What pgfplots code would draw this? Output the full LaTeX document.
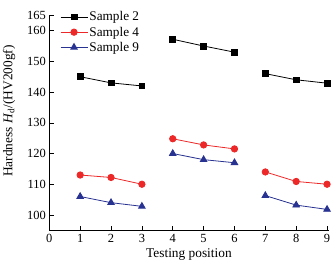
\documentclass[border=0pt]{standalone}
\usepackage{fontspec}
\setmainfont{Liberation Serif}
\usepackage{pgfplots}
\pgfplotsset{compat=1.18}
\definecolor{sred}{RGB}{236,40,40}
\definecolor{sblue}{RGB}{40,50,145}
\begin{document}
\begin{tikzpicture}
\begin{axis}[
  scale only axis,
  width=279.3bp, height=215bp,
  xmin=0, xmax=9.05, ymin=95, ymax=165,
  axis x line=bottom, axis y line=left,
  axis line style={-, line width=0.7bp},
  xtick={0,...,9},
  ytick={100,110,120,130,140,150,160,165},
  tick align=inside,
  major tick length=4.5bp,
  tick style={line width=0.6bp, black},
  /pgf/number format/assume math mode=true,
  tick label style={font=\fontsize{12.5}{14}\selectfont},
  xticklabel style={yshift=-0.5bp},
  xlabel={Testing position},
  ylabel={Hardness \textit{H}$_{\mathrm{d}}$/(HV200gf)},
  every axis x label/.style={at={(axis description cs:0.5,0)}, yshift=-24bp, anchor=center, font=\fontsize{13.4}{16}\selectfont},
  every axis y label/.style={at={(axis description cs:0,0.555)}, xshift=-40.3bp, anchor=center, rotate=90, font=\fontsize{13.4}{16}\selectfont},
  unbounded coords=jump,
  legend style={draw=none, fill=none, at={(axis description cs:0.038,1.025)}, anchor=north west,
    font=\fontsize{13.3}{15}\selectfont, row sep=1.5bp, inner sep=0pt,
    nodes={inner sep=1.5bp}},
  legend cell align=left,
  legend image code/.code={\draw[mark repeat=2,mark phase=2,#1] plot coordinates {(0bp,0bp) (13.5bp,0bp) (27bp,0bp)};},
  every axis plot/.append style={line width=0.8bp},
]
\addplot[black, mark=square*, mark size=2.9bp, mark options={solid}] coordinates {
 (1,145) (2,143) (3,142) (3.5,nan) (4,157.2) (5,155) (6,153) (6.5,nan) (7,146) (8,144) (9,142.9)};
\addplot[sred, mark=*, mark size=3.2bp] coordinates {
 (1,113) (2,112.2) (3,110) (3.5,nan) (4,124.8) (5,122.8) (6,121.5) (6.5,nan) (7,114) (8,110.9) (9,110)};
\addplot[sblue, mark=triangle*, mark size=3.8bp] coordinates {
 (1,106) (2,104) (3,102.8) (3.5,nan) (4,120) (5,118) (6,117) (6.5,nan) (7,106.3) (8,103.2) (9,101.8)};
\legend{Sample 2, Sample 4, Sample 9}
\end{axis}
\pgfresetboundingbox
\path ([xshift=-49.3bp,yshift=-35.7bp]current axis.south west) rectangle ([xshift=282.7bp,yshift=230.3bp]current axis.south west);
\end{tikzpicture}
\end{document}
